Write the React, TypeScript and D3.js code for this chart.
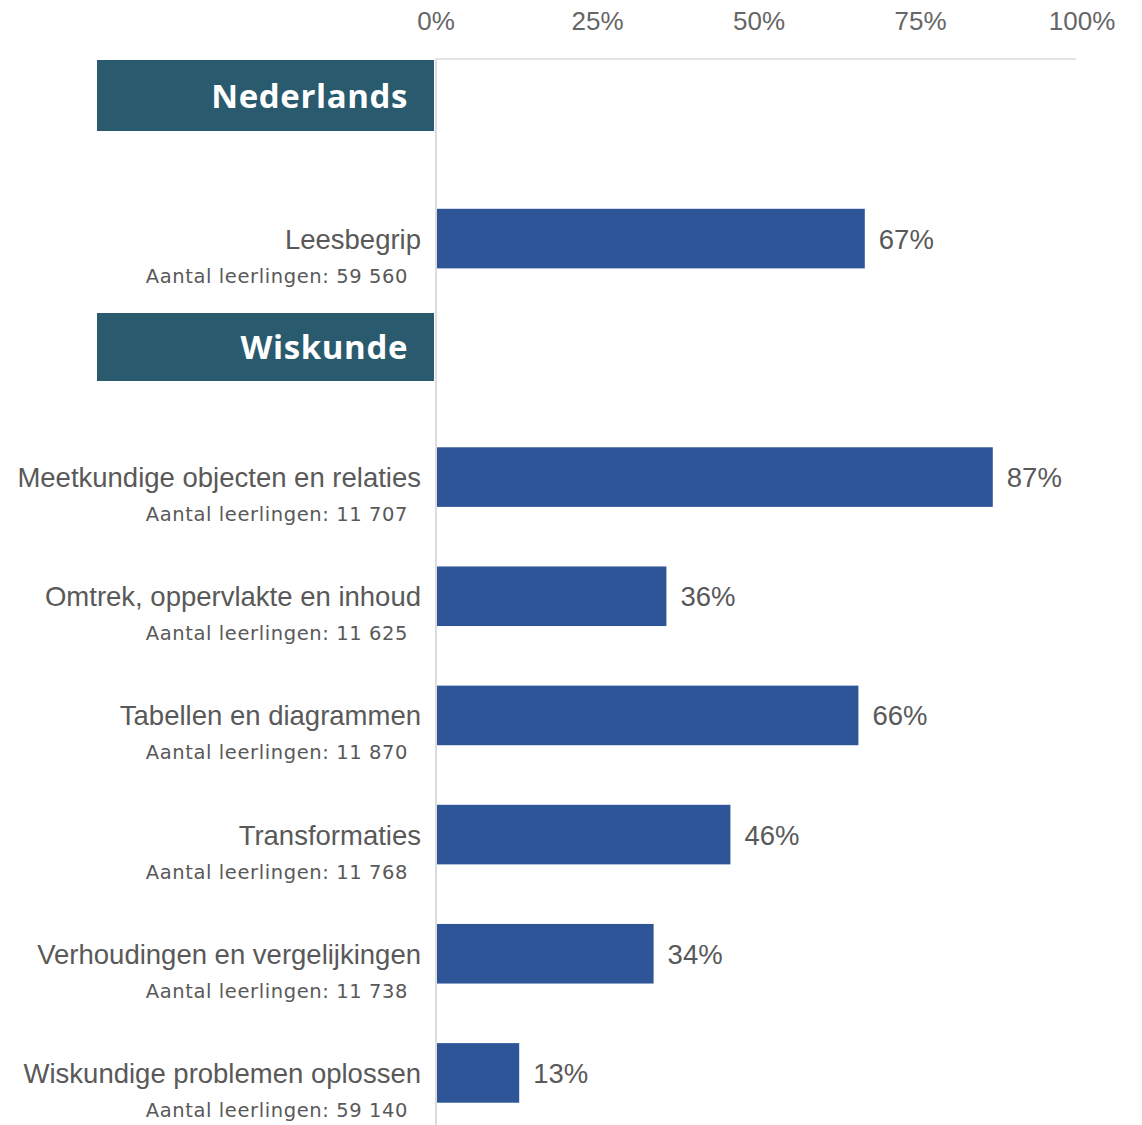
import React, { useEffect, useRef } from 'react';
import * as d3 from 'd3';

const ticks = [0, 25, 50, 75, 100];

const nlCategories = ['Leesbegrip'];
const nlValues = [67];
const nlCounts = ['59 560'];

const wiCategories = [
  'Meetkundige objecten en relaties',
  'Omtrek, oppervlakte en inhoud',
  'Tabellen en diagrammen',
  'Transformaties',
  'Verhoudingen en vergelijkingen',
  'Wiskundige problemen oplossen',
];
const wiValues = [87, 36, 66, 46, 34, 13];
const wiCounts = ['11 707', '11 625', '11 870', '11 768', '11 738', '59 140'];

const groups = ['Nederlands', 'Wiskunde'];

const W = 1142;
const H = 1125;

const App: React.FC = () => {
  const svgRef = useRef<SVGSVGElement>(null);

  useEffect(() => {
    if (!svgRef.current) return;
    const svg = d3.select(svgRef.current);
    svg.selectAll('*').remove();

    const x = d3.scaleLinear().domain([0, 100]).range([436, 1076]);

    const yNl = d3.scaleBand<string>()
      .domain(nlCategories)
      .range([179, 298.2])
      .paddingInner(0.5)
      .paddingOuter(0.25);

    const yWi = d3.scaleBand<string>()
      .domain(wiCategories)
      .range([417.5, 1132.5])
      .paddingInner(0.5)
      .paddingOuter(0.25);

    // header boxes
    const headerBoxes = [
      { label: groups[0], y0: 60, y1: 131 },
      { label: groups[1], y0: 313, y1: 381 },
    ];
    svg.selectAll('.hdr')
      .data(headerBoxes)
      .enter()
      .append('rect')
      .attr('x', 97)
      .attr('y', d => d.y0)
      .attr('width', 337)
      .attr('height', d => d.y1 - d.y0)
      .attr('fill', '#295a6d');
    svg.selectAll('.hdrText')
      .data(headerBoxes)
      .enter()
      .append('text')
      .attr('x', 408)
      .attr('y', d => (d.y0 + d.y1) / 2 + 12)
      .attr('text-anchor', 'end')
      .attr('fill', 'white')
      .style('font-family', '"Open Sans", sans-serif')
      .style('font-weight', 700)
      .style('font-size', '33px')
      .style('letter-spacing', '0.6px')
      .text(d => d.label);

    // top grid line
    svg.append('line')
      .attr('x1', x(0)).attr('x2', x(100))
      .attr('y1', 59).attr('y2', 59)
      .attr('stroke', '#e3e3e3')
      .attr('stroke-width', 2);

    // axis line
    svg.append('line')
      .attr('x1', x(0)).attr('x2', x(0))
      .attr('y1', 59).attr('y2', H)
      .attr('stroke', '#dcdcdc')
      .attr('stroke-width', 2);

    // tick labels
    svg.selectAll('.tick')
      .data(ticks)
      .enter()
      .append('text')
      .attr('x', d => x(d) + d * 0.06)
      .attr('y', 30)
      .attr('text-anchor', 'middle')
      .attr('fill', '#666666')
      .style('font-family', '"Liberation Sans", Arial, sans-serif')
      .style('font-size', '26px')
      .text(d => `${d}%`);

    const rows = [
      ...nlCategories.map((c, i) => ({ cat: c, value: nlValues[i], count: nlCounts[i], y: yNl(c)!, bw: yNl.bandwidth() })),
      ...wiCategories.map((c, i) => ({ cat: c, value: wiValues[i], count: wiCounts[i], y: yWi(c)!, bw: yWi.bandwidth() })),
    ];

    const g = svg.append('g');

    g.selectAll('.bar')
      .data(rows)
      .enter()
      .append('rect')
      .attr('x', x(0) + 1)
      .attr('y', d => d.y)
      .attr('width', d => x(d.value) - x(0) - 1)
      .attr('height', d => d.bw)
      .attr('fill', '#2e5597');

    g.selectAll('.val')
      .data(rows)
      .enter()
      .append('text')
      .attr('x', d => x(d.value) + 14)
      .attr('y', d => d.y + d.bw / 2 + 10)
      .attr('fill', '#595959')
      .style('font-family', '"Liberation Sans", Arial, sans-serif')
      .style('font-size', '27.5px')
      .text(d => `${d.value}%`);

    g.selectAll('.cat')
      .data(rows)
      .enter()
      .append('text')
      .attr('x', 421)
      .attr('y', d => d.y + d.bw / 2 + 10)
      .attr('text-anchor', 'end')
      .attr('fill', '#595959')
      .style('font-family', '"Liberation Sans", Arial, sans-serif')
      .style('font-size', '27.5px')
      .text(d => d.cat);

    g.selectAll('.cnt')
      .data(rows)
      .enter()
      .append('text')
      .attr('x', 408)
      .attr('y', d => d.y + d.bw / 2 + 44)
      .attr('text-anchor', 'end')
      .attr('fill', '#595959')
      .style('font-family', '"DejaVu Sans", sans-serif')
      .style('font-size', '19.5px')
      .style('letter-spacing', '0.6px')
      .text(d => `Aantal leerlingen: ${d.count}`);
  }, []);

  return (
    <svg
      ref={svgRef}
      width={W}
      height={H}
      style={{ position: 'absolute', left: 0, top: 0, background: 'white' }}
    />
  );
};

export default App;
